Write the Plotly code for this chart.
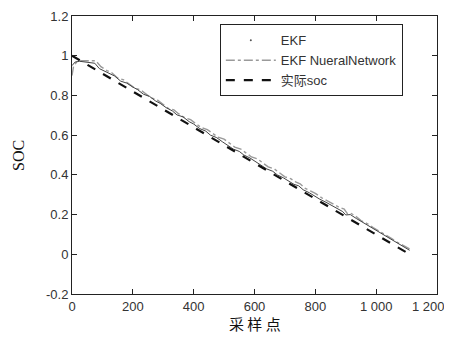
import plotly.graph_objects as go

# Data
actual_x = [0, 1110]
actual_y = [1.0, 0.0]

nn_x = [0, 5, 15, 30, 50, 65, 78, 95, 115, 130, 150, 170, 185, 205, 225, 240, 260, 280,
        295, 315, 335, 350, 370, 390, 405, 425, 445, 460, 480, 500, 515, 535, 555, 570,
        590, 610, 625, 645, 665, 680, 700, 720, 735, 750, 765, 785, 800, 820, 840, 860,
        880, 895, 905, 915, 930, 950, 970, 990, 1010, 1030, 1050, 1070, 1090, 1110]
nn_y = [0.900, 0.945, 0.968, 0.975, 0.975, 0.975, 0.975, 0.945, 0.925, 0.915, 0.888,
        0.878, 0.862, 0.838, 0.828, 0.812, 0.788, 0.778, 0.760, 0.736, 0.727, 0.708,
        0.688, 0.678, 0.660, 0.638, 0.628, 0.610, 0.590, 0.580, 0.562, 0.540, 0.530,
        0.512, 0.490, 0.480, 0.462, 0.440, 0.430, 0.412, 0.390, 0.380, 0.365, 0.355,
        0.333, 0.318, 0.307, 0.285, 0.268, 0.255, 0.235, 0.228, 0.205, 0.208, 0.195,
        0.170, 0.155, 0.135, 0.118, 0.098, 0.080, 0.060, 0.042, 0.027]

ekf_x = [0, 10, 25, 45, 60, 75, 90, 105, 125, 140, 160, 180, 200, 215, 235, 255, 275,
         290, 310, 330, 345, 365, 385, 400, 420, 440, 455, 475, 495, 510, 530, 550, 565,
         585, 605, 620, 640, 660, 675, 695, 715, 730, 745, 760, 780, 795, 815, 835, 855,
         875, 890, 900, 915, 935, 955, 975, 995, 1015, 1035, 1055, 1075, 1095, 1110]
ekf_y = [0.950, 0.968, 0.972, 0.968, 0.965, 0.962, 0.935, 0.925, 0.908, 0.898, 0.872,
         0.862, 0.842, 0.830, 0.806, 0.795, 0.772, 0.760, 0.738, 0.722, 0.702, 0.692,
         0.668, 0.656, 0.633, 0.620, 0.600, 0.588, 0.566, 0.552, 0.530, 0.518, 0.500,
         0.485, 0.464, 0.452, 0.430, 0.418, 0.400, 0.385, 0.365, 0.352, 0.345, 0.325,
         0.310, 0.295, 0.277, 0.262, 0.245, 0.228, 0.215, 0.198, 0.200, 0.180, 0.162,
         0.145, 0.126, 0.108, 0.090, 0.072, 0.052, 0.035, 0.020]

x_tickvals = [0, 200, 400, 600, 800, 1000, 1200]
x_ticktext = ["0", "200", "400", "600", "800", "1 000", "1 200"]
y_tickvals = [-0.2, 0, 0.2, 0.4, 0.6, 0.8, 1.0, 1.2]
y_ticktext = ["-0.2", "0", "0.2", "0.4", "0.6", "0.8", "1", "1.2"]

fig = go.Figure()
fig.add_trace(go.Scatter(x=[None], y=[None], mode="markers", name="EKF",
                         marker=dict(color="#555555", size=2)))
fig.add_trace(go.Scatter(x=nn_x, y=nn_y, mode="lines", name="EKF NueralNetwork",
                         line=dict(color="#9a9a9a", width=1.4, dash="dashdot")))
fig.add_trace(go.Scatter(x=ekf_x, y=ekf_y, mode="lines", name="EKF", showlegend=False,
                         line=dict(color="#444444", width=1)))
fig.add_trace(go.Scatter(x=actual_x, y=actual_y, mode="lines", name="实际soc",
                         line=dict(color="#111111", width=2.2, dash="dash")))

# last x tick label is drawn as an annotation, nudged left so it stays inside the window
shown_ticktext = x_ticktext[:-1] + [""]

# page body has an 8px margin, so the figure is sized to fit the 452x342 window
fig.update_layout(
    width=444, height=326,
    margin=dict(l=64, r=15, t=8, b=40, autoexpand=False),
    paper_bgcolor="white", plot_bgcolor="white",
    font=dict(family="Liberation Sans, Arial", size=13, color="#333333"),
    showlegend=True,
    legend=dict(x=0.405, y=0.97, xanchor="left", yanchor="top",
                bgcolor="white", bordercolor="#222222", borderwidth=1,
                font=dict(size=13, family="Liberation Sans, Noto Sans CJK SC"),
                traceorder="normal", itemwidth=50, tracegroupgap=4),
    xaxis=dict(range=[0, 1200], tickvals=x_tickvals, ticktext=shown_ticktext,
               ticks="inside", ticklen=5, tickcolor="#222222", showline=True,
               linecolor="#222222", linewidth=1, mirror="ticks", showgrid=False,
               zeroline=False, automargin=False),
    yaxis=dict(range=[-0.2, 1.2], tickvals=y_tickvals, ticktext=y_ticktext,
               ticks="inside", ticklen=5, tickcolor="#222222", showline=True,
               linecolor="#222222", linewidth=1, mirror="ticks", showgrid=False,
               zeroline=False, automargin=False),
    annotations=[
        dict(text=x_ticktext[-1], xref="paper", yref="paper", x=1, y=0,
             xanchor="right", yanchor="middle", xshift=10, yshift=-12, showarrow=False,
             font=dict(family="Liberation Sans, Arial", size=13, color="#333333")),
        dict(text="SOC", xref="paper", yref="paper", x=-0.148, y=0.5, textangle=-90,
             showarrow=False, xanchor="center", yanchor="middle",
             font=dict(family="Liberation Serif, Times New Roman", size=16, color="#111111")),
        dict(text="采 样 点", xref="paper", yref="paper", x=0.5, y=-0.105,
             showarrow=False, xanchor="center", yanchor="middle", borderpad=0,
             font=dict(family="Noto Sans CJK SC", size=15, color="#111111")),
    ],
)

fig.write_html("out.html")
